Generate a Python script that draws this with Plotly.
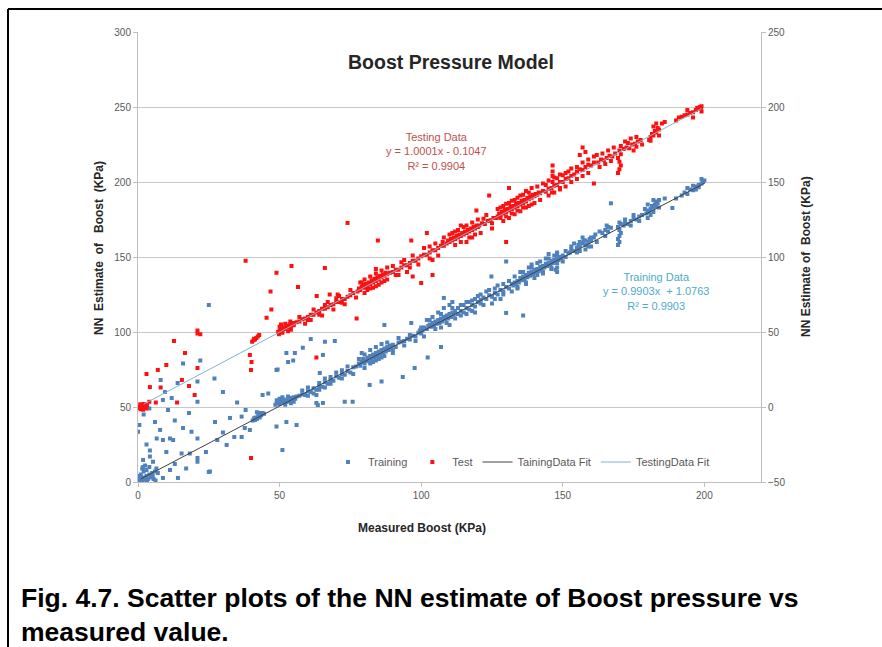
import plotly.graph_objects as go

# ---------------- data ----------------
# Training data: (measured boost, NN estimate) on the left axis
train_points = [
    (0.5,1),(1,2),(1.5,0.5),(2,3),(2.5,1.5),(3,4),(3.5,2),(4,5),(4.5,3),(5,6),(1,5),(2,7),(0.5,4),
    (3,8),(5.5,2),(6,7),(6.5,9),(1.5,9),(4,10),(2.5,11),(7,6),(0.8,3),(3.2,0.5),(5.2,4),(6.2,1),
    (9.5,60),(10.6,48),(7.8,34.7),(6.6,29),(8.8,28),(11.3,29),(13,41),(15.9,36),(18.9,33.5),(21,29),
    (21,16),(21,13.5),(18.3,19),(15.4,19),(12.4,28),(4.2,21),(4.2,17),(5.3,13.5),(11.3,8),(14.1,2.7),
    (8.8,2.7),(1.8,14.7),(1.8,10),(8.8,54.7),(11.9,56),(15.9,79),(21,67),(21,53.5),(27,69),(25.4,7),
    (27.2,40),(31.3,24.7),(32.5,42.7),(36.6,43.6),(37.7,36),(41.3,41.3),(43,46),(48.9,74.7),(48.9,37),
    (51,21.3),(52.4,86),(54.8,81),(52.4,40),(56,38),(0,33.5),(25,118),(25,6.7),(3,25),(6,40),(2,45),
    (10,20),(13,12),(17,9),(24,20),(28,28),(30,33),(34,30),(36.6,30),(39.5,34.7),(38,48),(44,58),
    (46,59),(35,53),(30,60),(18,46),(8,68),(14,66),(22,81),(4,49),(0.5,38),
    (40.5,41),(41,42.5),(41.5,43),(42,42),(42.5,44),(43,45),(43.5,44.5),(44,46),(44.5,45.5),(42,46.5),(43,43),
    (48.5,51.5),(49,52.5),(49.5,53),(50,52),(50.5,54),(51,53),(51.5,55),(52,54),(52.5,53.5),(53,55.5),
    (53.5,54),(54,56),(54.5,55),(55,56.5),(55.5,55.5),(56,57),(50,55.5),(52,51.5),(54,52.5),(51,56.5),
    (53,57),(49,54.5),(55,53.5),
    (57,57.5),(58,58.5),(59,58),(60,60.5),(61,60),(62,62.5),(63,61.5),(64,64),(65,63.5),(66,66.5),
    (67,65.5),(68,68),(69,67.5),(70,70.5),(71,69.5),(72,72),(73,71.5),(74,74),(75,73),(76,76.5),
    (64,66),(68,70),(72,74.5),(60,57.5),(66,63),
    (77,77),(78,79),(78.5,77.5),(79,80),(79.5,82),(80,79),(80.5,81),(81,83),(81.5,80.5),(82,84),
    (82.5,82),(83,85),(83.5,83),(84,86),(84.5,84),(85,87),(85.5,85),(86,88),(86.5,86),(87,89),
    (87.5,87),(88,90),(88.5,88),(89,91),(89.5,89),(90,91.5),(91,90),(92,93),(80,85),(82,88),
    (84,90),(86,92),(83,80),(87,84),(90,88),(79,86),(85,82),
    (93,93.5),(94,94),(95,95.5),(96,95),(97,97.5),(98,97),(99,99.5),(100,99),
    (61,95.3),(66,93.5),(69.5,94),(55.4,86),(49.3,75),(58.2,89.5),(53,80),(73,53.5),(75.8,53.5),
    (63.5,51.3),(81.8,64.7),(86,67),(93.5,70),(87,104.7),(96.5,106),(97.7,76),(102.3,83),
    (99.5,101),(107,90),(108,122.7),(63,58),(63,52.7),(65.3,52.7),(64.2,72.7),(65.3,84.7),
    (100.5,101),(101,103),(102,102),(102.5,104),(103,105),(103.5,103.5),(104,106),(104.5,104),
    (105,107),(105.5,105.5),(106,108),(106.5,106),(107,109),(107.5,107),(108,110),(108.5,108.5),
    (109,111),(109.5,109),(110,112),(110.5,110),(111,113),(111.5,111.5),(112,114),(104,110),
    (106,113),(108,116),(110,118),(102,108),(107,103),(111,120),
    (113,112),(114,114),(115,113),(116,116),(117,115),(118,118),(119,117),(120,120),(121,119),
    (113,116),(115,118),(117,120),(119,122),(116,112),(118,114),(120,124),(110,104.7),
    (121,121.5),(122,123),(123,122),(124,124.5),(125,123.5),(126,126),(127,125),(128,128),(129,127),
    (130,130),(131,129),(132,132),(123,127),(126,129),(129,132),(124.8,137),(130,147),(136,111),
    (130,112.7),(125,119),(128,122),
    (132.5,131),(133,133),(133.5,132),(134,134),(134.5,133),(135,136),(135.5,134.5),(136,137),
    (136.5,135),(137,138),(137.5,136.5),(138,139.5),(138.5,137.5),(139,140),(139.5,138.5),(140,141.5),
    (140.5,139.5),(141,142),(141.5,140.5),(142,143.5),(142.5,141.5),(143,144),(143.5,143),(144,145.5),
    (144.5,144),(145,146),(145.5,145),(146,147.5),(146.5,146),(147,148),(147.5,147),(148,149.5),
    (148.5,148),(149,150),(149.5,149),(150,151),(151,150),(152,152.5),(135,140),(138,143),(141,146),
    (144,149),(137,132),(140,136),(143,139),(146,142),(148,140),(148,143),(148,146),(148,152),
    (148,153),(147.5,141.5),(134,129),(139,145),(145,152),
    (152.5,153),(153,155),(154,154),(155,156),(155.5,158),(156,157),(157,159),(157.5,161),(158,158),
    (159,160),(159.5,162),(160,161),(161,163),(161.5,165),(156,154),(158,155),(160,157),(154,159),(157,163),
    (164,166),(165,168),(166,167),(167,169.5),(165.5,171),(167,185.8),
    (169.5,158),(170,160),(169.5,162),(170,164),(170.5,166),(170,168),(169.5,170),(170.5,172),(170,173),
    (171.5,171),(172,173),(173,172),(174,174),(175,175.5),(176,175),(177,177),(178,178),
    (179.5,179),(180,181),(180.5,180),(181,182),(181.5,184),(182,183),(182.5,185),(183,184),(183,187),
    (183.5,186),(184,188),(180,185),(182,188),(181,178),(188.7,182.7),
    (192,191),(193,193),(194,192),(195,195),(196,194.5),(197,197),(198,198),(199,199),(199.5,200),
    (200,201),(196,197.5),(198,196.5),
    (58,61),(60,63),(62,59),(64,61.5),(66,69),(68,65.5),(70,73),(72,69),(74,77),(76,72),(78,82),
    (80,76),(82,79),(84,81),(86,83),(88,93),(90,86),(92,96),(94,91),(96,98),(98,94),(100,103),
    (101,97),(103,108),(105,102),(107,112),(109,106),(111,116),(112,109),(114,118),(114,111),
    (116,120),(118,121),(119,113),(121,125),(122,118),(124,128),(126,122),(127,131),(129,125),
    (131,134),(132,127),(133,137),(134,130),(136,140),(137,133),(139,143),(141,138),(142,147),
    (143,140),(145,149),(146,143),(147,151),(150,147),(151,154),(153,157),(155,153),(156,160),
    (158,161),(159,157),(160,163),(162,160),(163,167),(165,164),(166,170),(172,175),(174,171),
    (175,178),(177,174),(179,182),(180,176),(182,180),(184,183),(186,189),(190,189),(194,196),
    (197,195),(199,202),
]

# Test data: (measured boost, NN estimate) on the right axis
test_points = [
    (0.5,0),(1,1),(1.5,-0.5),(2,0.5),(2.5,1.5),(3,0),(1,-1.5),(2,2),(0.8,1.8),(2.8,-1),(1.8,-1.8),
    (3.2,1.2),(0.3,-0.8),
    (4.2,13.3),(7,24.7),(10,28),(12.7,44),(16.6,36),(21,51),(21,49),(21,26),(20,8),(13.8,3),(6.3,3),
    (4,3.5),(8,13),(3,22),(15.5,18),(18,14),(22,48.5),
    (38,97.5),(48.9,89.5),(54.2,94),(56.5,80),(46.8,77),(47.1,65),(45.4,59.5),(39.5,34.7),(40.1,30),
    (39.9,24.7),(39.9,-34),(63,33),(66,92.7),(63.1,74),(67.7,75),(70.5,75),(77.2,59),(74,122.7),
    (84.7,111),(96.5,111),(97,87),(100,82.7),(104,88),(102,116),
    (40.3,43.5),(40.8,44.5),(41.3,45),(41.8,46),(42.3,47),(42.8,48),(41,45.5),
    (49.5,50),(50,51),(50.5,52),(51,51.5),(51.5,53),(52,52),(52.5,54),(53,53),(53.5,55),(54,54),
    (54.5,55.5),(55,54.5),(50,53.5),(51,49.5),(52,55.5),(53,50.5),(54,51.5),(55,56),(50.5,55),
    (49.8,48.5),(53.8,57),
    (56,56.5),(57,57),(58,58.5),(59,59),(60,60),(61,61.5),(62,61.5),(63,63),(64,64),(65,65.5),
    (66,65.5),(67,66.5),(68,68),(69,68.5),(70,70),(71,70),(72,72),(73,72),(74,73.5),(75,74.5),
    (76,76),(60,58),(66,68),(70,72.5),(72,69.5),(64,61.5),
    (77.5,77),(78,79),(78.5,78),(79,80),(79.5,81.5),(80,79.5),(80.5,82),(81,80.5),(81.5,83),(82,82),
    (82.5,84.5),(83,83),(83.5,85.5),(84,84),(84.5,86.5),(85,85),(85.5,87.5),(86,86.5),(86.5,88.5),
    (87,87.5),(87.5,89.5),(88,88.5),(80,85),(82,87),(84,89),(86,91),(81,78),(83,79.5),(85,81.5),
    (87,84),(79,83),(84,80.5),
    (89,89.5),(90,90),(91,91.5),(92,91.5),(93,93),(94,94.5),(95,94.5),(96,96),(97,97.5),(98,97.5),
    (99,99),(100,100.5),(93,96.5),(96,93),(91,88),
    (101,101.5),(102,101.5),(103,103),(104,104.5),(105,104.5),(106,106),(107,107.5),(108,107.5),
    (107.6,110),(104,98),(103,107),
    (109,109),(109.5,111),(110,110),(110.5,112),(111,111),(111.5,113),(112,112),(112.5,114),(113,113),
    (113.5,115),(114,114),(114.5,116),(115,115),(115.5,117),(116,116),(116.5,118),(117,117),(117.5,119),
    (118,118),(118.5,120),(119,119),(119.5,121),(120,120),(111,116),(113,118),(115,120),(117,113),
    (119,115),(112,108),(116,110),(118,123),(119.5,131),(114,121),
    (120.5,121),(121.5,122.5),(122.5,122),(123.5,124),(124.5,124.5),(125.5,126),(126.5,126),(122,125.5),
    (125,122.5),(124,141),(130,110),
    (127,127),(127.5,129),(128,128),(128.5,130),(129,129),(129.5,131.5),(130,130),(130.5,132),(131,131),
    (131.5,133.5),(132,132),(132.5,134),(133,133),(133.5,135.5),(134,134),(134.5,136),(135,135),
    (135.5,137.5),(136,136),(136.5,138),(137,137),(137.5,139.5),(138,138.5),(138.5,140.5),(139,139.5),
    (139.5,141.5),(140,140.5),(140.5,142),(141,141.5),(141.5,143),(129,124),(131,126),(133,128.5),
    (135,130.5),(137,133),(139,135),(128,133),(130,135.5),(132,137.5),(134,139.5),(136,141.5),
    (138,143),(131,146),(128,126),
    (142,142.5),(143,144),(144,143.5),(145,145.5),(146,146),(147,147.5),(148,148),(149,150),(150,150),
    (151,152),(152,152.5),(153,154),(146.4,150),(146.4,154),(146.4,157),(146.4,161),(146.2,143),
    (144,148),(148,152.5),(150,154.5),(152,157),(145,141),(149,146),
    (154,155),(155,157),(156,158.5),(157,158),(157,173),(158,160),(159,161.5),(160,161),(161,163),
    (155,160),(157,163),(159,165),(161,167),(156,168),(158,170),(161,149),
    (162.5,163),(163.5,165),(164.5,164.5),(165.5,166),(166.5,167.5),(167.5,167),(168.5,169),
    (169.5,156),(170,158.5),(170.5,161),(170,163.5),(169.5,166),(170.5,168.5),(170,171),(170.5,174),
    (171.5,172),(172.5,173),(173.5,172.5),(174.5,175),(175.5,175.5),(176.5,177),(177.5,178),(173,176),
    (176,173.5),
    (180.5,178),(181,180),(181.5,182),(182,181),(182.5,184),(183,183),(183.5,186),(184,185),(182,187),
    (181,177.5),(185,189),
    (191,193),(192,193.5),(193,194.5),(194,195),(195,196),(196,196.5),(197,198),(198,199),(198.5,200),
    (199,200.5),(198.8,199.5),(197.5,199.5),
    (57,60),(59,55.5),(61,58),(62,65),(65,61),(67,70),(69,65),(71,74),(73,68.5),(75,78),(77,73),
    (78.5,83),(80,76),(82,79),(84,92),(86,83),(88,93),(88,85),(90,94),(92,88),(94,98),(95,90),
    (97,101),(99,95),(101,106),(103,99),(105,109),(106,101),(108,113),
    (110,115),(112,117),(114,110),(116,121),(118,113),(120,125),(121,116),(123,128),(125,119),
    (127,132),(129,134),(131,136),(133,138),(135,141),(137,144),(139,146),(141,147),(130,127),
    (132,129),(134,131),(136,133),(138,134),(140,136),(142,138),(143,149),(145,151),(147,153),
    (149,155),(151,156),(153,159),(147,143),(149,145),(151,147),(153,150),(155,152),(157,154),
    (159,156),(162,168),(164,169),(166,171),(168,173),(163,160),(165,162),(167,164),(172,177),
    (174,179),(176,180),(178,175),(175,171),(183,189),(184,181),(186,190),(190,191),(194,198),
    (196,193),(199,197),
]

train_x = [p[0] for p in train_points]
train_y = [p[1] for p in train_points]
test_x = [p[0] for p in test_points]
test_y = [p[1] for p in test_points]

# Trend lines (Excel linear fits shown in the chart)
train_fit_slope, train_fit_intercept = 0.9903, 1.0763
test_fit_slope, test_fit_intercept = 1.0001, -0.1047
train_fit_x = [1, 200]
test_fit_x = [2, 199]
train_fit_y = [train_fit_slope * v + train_fit_intercept for v in train_fit_x]
test_fit_y = [test_fit_slope * v + test_fit_intercept for v in test_fit_x]

x_ticks = [0, 50, 100, 150, 200]
y_left_ticks = [0, 50, 100, 150, 200, 250, 300]
y_right_ticks = [-50, 0, 50, 100, 150, 200, 250]

# ---------------- figure ----------------
FONT = "Arial, 'Liberation Sans', sans-serif"
TICK = dict(family=FONT, size=10, color="#595959")
AXC = "#BFBFBF"

fig = go.Figure()
fig.add_trace(go.Scatter(x=train_x, y=train_y, mode="markers", name="Training",
                         marker=dict(color="#4F81BD", size=4, symbol="square", line=dict(width=0))))
fig.add_trace(go.Scatter(x=test_x, y=test_y, mode="markers", name="Test", yaxis="y2",
                         marker=dict(color="#FF1010", size=4, symbol="square", line=dict(width=0))))
fig.add_trace(go.Scatter(x=train_fit_x, y=train_fit_y, mode="lines", name="TainingData Fit",
                         line=dict(color="#404040", width=1)))
fig.add_trace(go.Scatter(x=test_fit_x, y=test_fit_y, mode="lines", name="TestingData Fit", yaxis="y2",
                         line=dict(color="#7FB4CC", width=1)))

L, R, T, B = 138, 121, 32, 165
PW, PH = 882 - L - R, 647 - T - B


def px(xp):
    return (xp - L) / PW


def py(yp):
    return (647 - B - yp) / PH


AXT = dict(family=FONT, size=12, color="#262626")

fig.update_layout(
    width=882, height=647,
    margin=dict(l=L, r=R, t=T, b=B, pad=0),
    paper_bgcolor="white", plot_bgcolor="white",
    font=dict(family=FONT, color="#404040"),
    showlegend=True,
    legend=dict(orientation="h", x=px(328), y=py(462), xanchor="left", yanchor="middle",
                font=dict(family=FONT, size=11, color="#595959"), bgcolor="rgba(0,0,0,0)",
                itemwidth=30, tracegroupgap=0),
    xaxis=dict(range=[0, 220], tickvals=x_ticks, showgrid=False, zeroline=False,
               showline=True, linecolor=AXC, linewidth=1, ticks="outside", ticklen=4, tickcolor=AXC,
               tickfont=TICK),
    yaxis=dict(range=[0, 300], tickvals=y_left_ticks, showgrid=True, gridcolor="#C8C8C8", gridwidth=1,
               zeroline=False, showline=True, linecolor=AXC, linewidth=1, ticks="outside", ticklen=4,
               tickcolor=AXC, tickfont=TICK),
    yaxis2=dict(range=[-50, 250], tickvals=y_right_ticks, overlaying="y", side="right", showgrid=False,
                zeroline=False, showline=True, linecolor=AXC, linewidth=1, ticks="outside", ticklen=4,
                tickcolor=AXC, tickfont=TICK),
)

ann = [
    dict(text="<b>Boost Pressure Model</b>", x=px(451), y=py(62), xref="paper", yref="paper",
         showarrow=False, font=dict(family=FONT, size=19.5, color="#262626"), xanchor="center", yanchor="middle"),
    dict(text="Testing Data<br>y = 1.0001x - 0.1047<br>R² = 0.9904", x=px(436), y=py(151), xref="paper",
         yref="paper", showarrow=False, font=dict(family=FONT, size=11, color="#C0504D"),
         xanchor="center", yanchor="middle", align="center"),
    dict(text="Training Data<br>y = 0.9903x  + 1.0763<br>R² = 0.9903", x=px(656), y=py(291), xref="paper",
         yref="paper", showarrow=False, font=dict(family=FONT, size=11, color="#4BACC6"),
         xanchor="center", yanchor="middle", align="center"),
    dict(text="<b>Measured Boost (KPa)</b>", x=px(422), y=py(528), xref="paper", yref="paper",
         showarrow=False, font=AXT, xanchor="center", yanchor="middle"),
    dict(text="<b>NN  Estimate  of   Boost  (KPa)</b>", x=px(99), y=py(248), xref="paper", yref="paper",
         showarrow=False, font=AXT, xanchor="center", yanchor="middle", textangle=-90),
    dict(text="<b>NN Estimate of  Boost (KPa)</b>", x=px(806), y=py(257), xref="paper", yref="paper",
         showarrow=False, font=AXT, xanchor="center", yanchor="middle", textangle=-90),
    dict(text="<b>Fig. 4.7. Scatter plots of the NN estimate of Boost pressure vs</b>", x=px(19), y=py(598),
         xref="paper", yref="paper", showarrow=False, font=dict(family=FONT, size=26.5, color="#000000"),
         xanchor="left", yanchor="middle"),
    dict(text="<b>measured value.</b>", x=px(19), y=py(632),
         xref="paper", yref="paper", showarrow=False, font=dict(family=FONT, size=26.5, color="#000000"),
         xanchor="left", yanchor="middle"),
]
fig.update_layout(annotations=ann)

# document frame (black lines at top and left)
fig.add_shape(type="line", xref="paper", yref="paper", x0=px(8), x1=px(882), y0=py(9), y1=py(9),
              line=dict(color="black", width=2))
fig.add_shape(type="line", xref="paper", yref="paper", x0=px(8), x1=px(8), y0=py(9), y1=py(647),
              line=dict(color="black", width=2))

fig.write_html("out.html")
